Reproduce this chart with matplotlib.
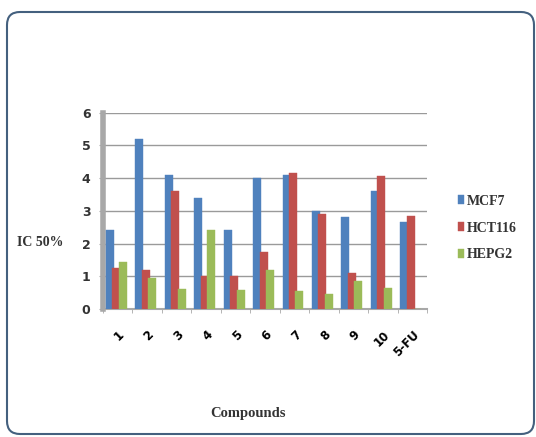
import numpy as np
import matplotlib
matplotlib.use("Agg")
import matplotlib.pyplot as plt
from matplotlib.patches import FancyBboxPatch
from matplotlib.transforms import ScaledTranslation

compounds = ["1", "2", "3", "4", "5", "6", "7", "8", "9", "10", "5-FU"]
mcf7 = [2.4, 5.2, 4.1, 3.4, 2.4, 4.0, 4.1, 3.0, 2.8, 3.6, 2.65]
hct116 = [1.25, 1.2, 3.6, 1.0, 1.0, 1.75, 4.15, 2.9, 1.1, 4.05, 2.85]
hepg2 = [1.45, 0.95, 0.6, 2.4, 0.58, 1.2, 0.55, 0.45, 0.87, 0.65, 0]
series = ["MCF7", "HCT116", "HEPG2"]
colors = ["#4F81BD", "#C0504D", "#9BBB59"]

W, H = 536, 437
fig = plt.figure(figsize=(W / 100, H / 100), dpi=100)

# rounded outer frame
bg = fig.add_axes([0, 0, 1, 1])
bg.set_xlim(0, W)
bg.set_ylim(0, H)
bg.axis("off")
bg.add_patch(FancyBboxPatch((7, 3), 527, 422, boxstyle="round,pad=0,rounding_size=13",
                            fc="white", ec="#44607e", lw=1.5))

ax = fig.add_axes([103 / W, 1 - 309 / H, 324 / W, (309 - 112.7) / H])
ax.set_facecolor("none")
x = np.arange(len(compounds)) + 0.5
bw = 0.27
off = 0.22
for k, (vals, c) in enumerate(zip([mcf7, hct116, hepg2], colors)):
    ax.bar(x + (k - 1) * off - 0.05, vals, bw, color=c, edgecolor=c, lw=0.3,
           label=series[k], zorder=3 + k)

ax.set_xlim(0, len(compounds))
ax.set_ylim(0, 6)
ax.set_yticks(range(7))
ax.yaxis.grid(True, color="#9a9a9a", lw=1.0, zorder=0)
for s in ["top", "right"]:
    ax.spines[s].set_visible(False)
ax.spines["left"].set_color("#a8a8a8")
ax.spines["left"].set_linewidth(4)
ax.spines["bottom"].set_color("#a8a8a8")
ax.spines["bottom"].set_linewidth(1.5)

ax.set_xticks(x)
ax.set_xticklabels(compounds, rotation=45, ha="right", va="top", rotation_mode="anchor",
                   fontsize=8.5, fontweight="bold", family="DejaVu Sans")
for t in ax.get_xticklabels():
    t.set_transform(t.get_transform() + ScaledTranslation(-4 / 100, -2 / 100, fig.dpi_scale_trans))
ax.set_xticks(np.arange(len(compounds) + 1), minor=True)
ax.tick_params(axis="x", which="major", length=0, pad=14)
ax.tick_params(axis="x", which="minor", length=3, color="#a8a8a8")
ax.tick_params(axis="y", length=3, color="#a8a8a8", pad=6)
for t in ax.get_yticklabels():
    t.set_fontsize(9)
    t.set_fontweight("bold")
    t.set_color("#333333")

fig.text(17 / W, 1 - 243 / H, "IC 50%", family="Liberation Serif", fontweight="bold",
         fontsize=10, color="#333333", va="center", ha="left")
fig.text(248 / W, 1 - 413 / H, "Compounds", family="Liberation Serif", fontweight="bold",
         fontsize=10.5, color="#333333", va="center", ha="center")

leg = ax.legend(loc="center left", bbox_to_anchor=(445 / W, 1 - 228 / H),
                bbox_transform=fig.transFigure, frameon=False, handlelength=0.5,
                handleheight=0.6, handletextpad=0.2, labelspacing=1.0,
                prop={"family": "Liberation Serif", "weight": "bold", "size": 10})
for t in leg.get_texts():
    t.set_color("#333333")

fig.savefig("out.png", dpi=100)
